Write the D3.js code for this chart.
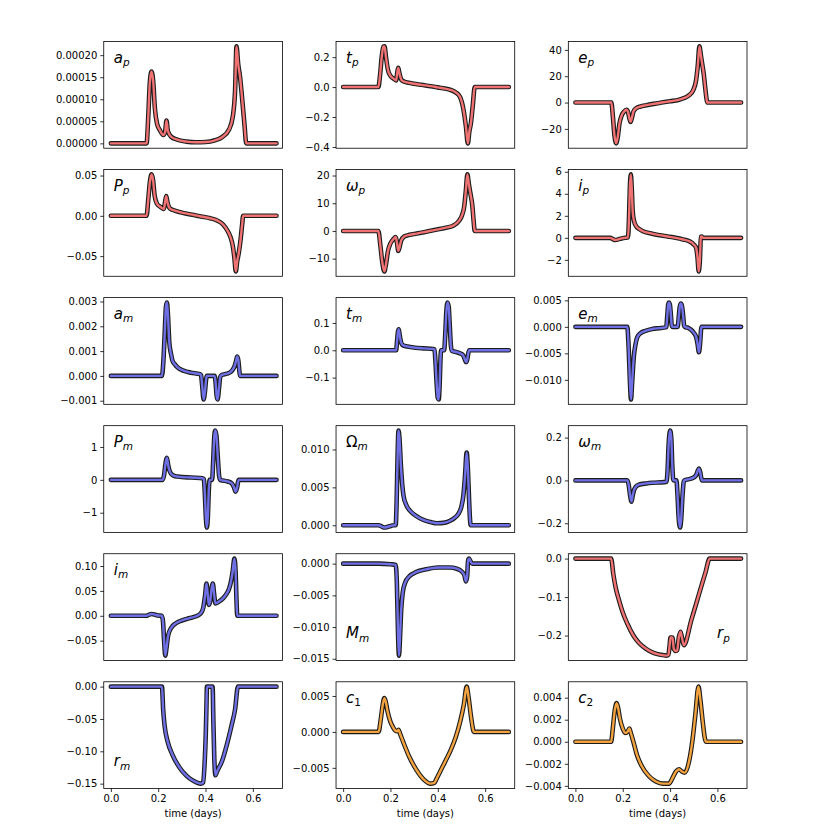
<!DOCTYPE html>
<html><head><meta charset="utf-8">
<script src="https://cdn.jsdelivr.net/npm/d3@7"></script>
<style>body{margin:0;background:#fff} svg{display:block}</style>
</head><body><svg id="c" width="830" height="830"></svg>
<script>
// ---- data: [time (days), value] ----
const ap = [[0,0],[0.151,0],[0.158,0.00006],[0.165,0.00014],[0.172,0.000163],[0.179,0.00014],[0.186,0.00008],[0.195,0.000045],[0.207,0.00003],[0.222,0.000019],[0.229,0.000025],[0.235,0.000052],[0.241,0.000028],[0.255,0.000015],[0.28,0.0000085],[0.32,0.000004],[0.36,0.0000025],[0.40,0.000003],[0.44,0.000007],[0.47,0.000014],[0.50,0.000032],[0.515,0.00006],[0.525,0.00012],[0.531,0.00022],[0.538,0.00018],[0.546,0.00015],[0.555,0.0001],[0.565,0.00004],[0.572,0],[0.7,0]];
const tp = [[0,0],[0.149,0],[0.156,0.08],[0.163,0.2],[0.17,0.27],[0.175,0.272],[0.181,0.2],[0.19,0.11],[0.2,0.075],[0.215,0.055],[0.224,0.045],[0.229,0.1],[0.233,0.128],[0.238,0.09],[0.248,0.045],[0.265,0.033],[0.283,0.027],[0.33,0.015],[0.37,0.006],[0.4,-0.002],[0.43,-0.01],[0.452,-0.018],[0.475,-0.035],[0.494,-0.066],[0.509,-0.155],[0.519,-0.265],[0.527,-0.376],[0.533,-0.3],[0.54,-0.24],[0.548,-0.12],[0.556,0],[0.7,0]];
const ep = [[0,0],[0.152,0],[0.158,-10],[0.165,-25],[0.172,-31],[0.179,-26],[0.186,-16],[0.195,-10],[0.205,-7],[0.216,-5.5],[0.222,-7],[0.228,-12],[0.233,-14.7],[0.238,-12],[0.245,-7],[0.255,-4.5],[0.275,-3],[0.3,-2],[0.33,-1],[0.364,0],[0.4,1],[0.435,2],[0.46,3.5],[0.48,5.5],[0.498,9.5],[0.51,17],[0.517,28],[0.524,42.7],[0.53,36],[0.536,29],[0.542,22],[0.548,12],[0.553,4],[0.557,0],[0.7,0]];
const Pp = [[0,0],[0.151,0],[0.158,0.02],[0.165,0.042],[0.172,0.0514],[0.178,0.045],[0.185,0.025],[0.195,0.015],[0.21,0.011],[0.224,0.0085],[0.229,0.017],[0.234,0.0245],[0.239,0.017],[0.25,0.009],[0.27,0.0065],[0.31,0.0033],[0.35,0.001],[0.381,-0.0008],[0.42,-0.003],[0.451,-0.006],[0.475,-0.011],[0.493,-0.0185],[0.505,-0.026],[0.515,-0.037],[0.522,-0.052],[0.528,-0.069],[0.534,-0.056],[0.54,-0.047],[0.548,-0.03],[0.555,-0.01],[0.559,0],[0.7,0]];
const wp = [[0,0],[0.149,0],[0.157,-5],[0.165,-11],[0.174,-14.6],[0.181,-12],[0.19,-7],[0.2,-4.5],[0.212,-3],[0.222,-2.2],[0.228,-4.5],[0.233,-7.2],[0.238,-6],[0.245,-3.5],[0.258,-2],[0.28,-1.4],[0.311,-0.95],[0.35,-0.3],[0.396,0.5],[0.43,1.1],[0.467,2],[0.49,3.7],[0.502,5.6],[0.512,9],[0.519,15],[0.525,20.4],[0.531,17],[0.537,13.9],[0.546,9.1],[0.552,3],[0.556,0],[0.7,0]];
const ip = [[0,0],[0.148,0],[0.158,-0.12],[0.168,-0.2],[0.18,-0.15],[0.195,-0.05],[0.21,0],[0.222,0.05],[0.226,1.5],[0.23,4.5],[0.234,5.76],[0.238,4.5],[0.242,2.4],[0.248,1.5],[0.257,1.05],[0.27,0.8],[0.285,0.6],[0.32,0.4],[0.355,0.24],[0.39,0.12],[0.423,0],[0.455,-0.15],[0.48,-0.3],[0.5,-0.6],[0.51,-0.9],[0.516,-1.8],[0.521,-3.05],[0.526,-2],[0.53,0.1],[0.533,0.12],[0.54,0],[0.7,0]];
const am = [[0,0],[0.216,0],[0.222,0.0006],[0.228,0.0018],[0.233,0.0028],[0.237,0.00296],[0.241,0.0025],[0.247,0.00135],[0.254,0.0009],[0.261,0.0006],[0.272,0.00045],[0.282,0.00034],[0.31,0.0002],[0.339,0.00013],[0.376,0.00007],[0.381,0.00003],[0.386,-0.0004],[0.392,-0.00095],[0.398,-0.0006],[0.403,-0.0001],[0.406,0],[0.438,0],[0.442,-0.0002],[0.447,-0.0008],[0.451,-0.00095],[0.457,-0.0005],[0.462,-0.00005],[0.467,0.00003],[0.49,0.00009],[0.502,0.00013],[0.515,0.00025],[0.523,0.0004],[0.529,0.0006],[0.534,0.00078],[0.539,0.0006],[0.543,0.0002],[0.546,0],[0.7,0]];
const tm = [[0,0],[0.224,0],[0.228,0.035],[0.232,0.07],[0.235,0.077],[0.239,0.055],[0.244,0.032],[0.25,0.02],[0.265,0.015],[0.283,0.012],[0.339,0.007],[0.38,0.005],[0.386,0.003],[0.39,-0.04],[0.395,-0.12],[0.4,-0.175],[0.404,-0.18],[0.408,-0.12],[0.412,-0.02],[0.414,0],[0.427,0],[0.431,0.05],[0.436,0.14],[0.441,0.175],[0.446,0.16],[0.45,0.1],[0.455,0.02],[0.459,-0.002],[0.48,-0.007],[0.494,-0.011],[0.506,-0.017],[0.513,-0.03],[0.519,-0.043],[0.524,-0.035],[0.529,-0.01],[0.533,0],[0.7,0]];
const em = [[0,0],[0.219,0],[0.225,-0.004],[0.23,-0.01],[0.235,-0.0137],[0.239,-0.011],[0.243,-0.008],[0.247,-0.0055],[0.254,-0.0033],[0.261,-0.002],[0.275,-0.0012],[0.296,-0.00076],[0.325,-0.0004],[0.353,-0.00025],[0.381,-0.0001],[0.384,0],[0.388,0.002],[0.392,0.0042],[0.395,0.0046],[0.399,0.0042],[0.403,0.0025],[0.407,0.0003],[0.41,0],[0.432,0],[0.436,0.0015],[0.441,0.0038],[0.446,0.0044],[0.45,0.004],[0.455,0.0022],[0.459,0.0003],[0.462,0],[0.479,-0.00025],[0.49,-0.0006],[0.5,-0.0011],[0.51,-0.0019],[0.516,-0.0032],[0.522,-0.0048],[0.527,-0.003],[0.531,-0.0005],[0.533,0],[0.7,0]];
const Pm = [[0,0],[0.219,0],[0.225,0.15],[0.231,0.5],[0.237,0.67],[0.242,0.45],[0.248,0.28],[0.254,0.19],[0.265,0.13],[0.282,0.1],[0.339,0.07],[0.388,0.05],[0.393,0.02],[0.397,-0.4],[0.402,-1.2],[0.406,-1.45],[0.41,-1.1],[0.414,-0.3],[0.417,0],[0.428,0],[0.432,0.5],[0.437,1.3],[0.441,1.5],[0.446,1.35],[0.451,0.8],[0.457,0.15],[0.462,0],[0.494,-0.05],[0.51,-0.1],[0.52,-0.22],[0.527,-0.36],[0.533,-0.25],[0.538,-0.05],[0.541,0],[0.7,0]];
const Om = [[0,0],[0.15,0],[0.165,-0.0002],[0.175,-0.0003],[0.19,-0.0002],[0.205,-0.00005],[0.215,0],[0.222,0],[0.226,0.003],[0.23,0.009],[0.234,0.0125],[0.238,0.0115],[0.244,0.0079],[0.255,0.0039],[0.268,0.0026],[0.283,0.0019],[0.31,0.0012],[0.339,0.0007],[0.37,0.00042],[0.396,0.00027],[0.43,0.00035],[0.452,0.0006],[0.472,0.001],[0.487,0.0015],[0.5,0.0025],[0.508,0.0039],[0.515,0.0065],[0.522,0.0096],[0.527,0.0075],[0.532,0.0035],[0.536,0.0008],[0.539,0],[0.7,0]];
const wm = [[0,0],[0.219,0],[0.225,-0.02],[0.231,-0.07],[0.237,-0.099],[0.242,-0.07],[0.247,-0.047],[0.255,-0.03],[0.268,-0.02],[0.3,-0.014],[0.325,-0.011],[0.374,-0.008],[0.385,-0.006],[0.389,0.04],[0.394,0.17],[0.4,0.233],[0.405,0.2],[0.409,0.08],[0.413,0.005],[0.415,0],[0.427,0],[0.431,-0.06],[0.436,-0.17],[0.442,-0.22],[0.447,-0.18],[0.452,-0.08],[0.457,-0.01],[0.46,0],[0.48,0.006],[0.494,0.011],[0.505,0.018],[0.511,0.027],[0.517,0.045],[0.522,0.055],[0.527,0.04],[0.532,0.01],[0.535,0],[0.7,0]];
const im = [[0,0],[0.15,0],[0.16,0.002],[0.172,0.0035],[0.185,0.0025],[0.2,0.0005],[0.215,0],[0.22,-0.01],[0.225,-0.05],[0.23,-0.08],[0.235,-0.065],[0.242,-0.04],[0.254,-0.025],[0.275,-0.015],[0.296,-0.01],[0.33,-0.005],[0.36,-0.001],[0.38,0.005],[0.39,0.015],[0.398,0.04],[0.404,0.065],[0.409,0.045],[0.414,0.022],[0.42,0.03],[0.426,0.055],[0.431,0.065],[0.436,0.045],[0.442,0.025],[0.455,0.028],[0.474,0.035],[0.49,0.045],[0.5,0.055],[0.508,0.07],[0.515,0.09],[0.522,0.115],[0.527,0.09],[0.531,0.03],[0.534,0],[0.7,0]];
const Mm = [[0,0],[0.15,0],[0.2,-0.0001],[0.222,-0.0002],[0.227,-0.003],[0.232,-0.011],[0.236,-0.0145],[0.24,-0.012],[0.245,-0.0075],[0.252,-0.0045],[0.262,-0.003],[0.28,-0.002],[0.31,-0.0013],[0.35,-0.0009],[0.4,-0.0006],[0.45,-0.0006],[0.48,-0.0008],[0.5,-0.0012],[0.512,-0.0018],[0.519,-0.0028],[0.524,-0.002],[0.528,0.0005],[0.532,0.0008],[0.538,0.0004],[0.545,0],[0.7,0]];
const rp = [[0,0],[0.151,0],[0.16,-0.04],[0.17,-0.075],[0.185,-0.11],[0.2,-0.14],[0.22,-0.17],[0.245,-0.2],[0.27,-0.22],[0.3,-0.235],[0.33,-0.245],[0.36,-0.25],[0.385,-0.252],[0.393,-0.25],[0.398,-0.225],[0.402,-0.205],[0.41,-0.205],[0.416,-0.235],[0.425,-0.24],[0.43,-0.238],[0.437,-0.205],[0.444,-0.19],[0.45,-0.205],[0.458,-0.225],[0.49,-0.159],[0.51,-0.118],[0.53,-0.076],[0.55,-0.035],[0.567,0],[0.7,0]];
const rm = [[0,0],[0.216,0],[0.221,-0.035],[0.227,-0.06],[0.24,-0.085],[0.26,-0.105],[0.29,-0.125],[0.32,-0.138],[0.35,-0.146],[0.38,-0.15],[0.39,-0.148],[0.396,-0.12],[0.401,-0.075],[0.404,-0.03],[0.406,0],[0.43,0],[0.433,-0.05],[0.437,-0.11],[0.442,-0.137],[0.45,-0.13],[0.47,-0.115],[0.49,-0.09],[0.51,-0.06],[0.525,-0.035],[0.537,0],[0.7,0]];
const c1 = [[0,0],[0.15,0],[0.158,0.0015],[0.166,0.0035],[0.174,0.0047],[0.18,0.0042],[0.188,0.0028],[0.2,0.0014],[0.21,0.0007],[0.22,0.0002],[0.228,0.0001],[0.234,0.0003],[0.24,-0.0002],[0.255,-0.0015],[0.28,-0.0035],[0.31,-0.0053],[0.34,-0.0066],[0.37,-0.0072],[0.385,-0.0071],[0.395,-0.0065],[0.41,-0.0055],[0.43,-0.0042],[0.455,-0.0025],[0.475,-0.0008],[0.495,0.0015],[0.51,0.0038],[0.522,0.0063],[0.53,0.0048],[0.54,0.0022],[0.548,0.0005],[0.552,0],[0.7,0]];
const c2 = [[0,0],[0.151,0],[0.158,0.0012],[0.166,0.0028],[0.174,0.0035],[0.18,0.0031],[0.188,0.0021],[0.2,0.0012],[0.212,0.0008],[0.22,0.0009],[0.228,0.0012],[0.234,0.0008],[0.245,0],[0.26,-0.0012],[0.28,-0.0022],[0.31,-0.0031],[0.34,-0.0036],[0.37,-0.0038],[0.395,-0.0038],[0.41,-0.0033],[0.425,-0.0027],[0.438,-0.0025],[0.45,-0.0027],[0.462,-0.0028],[0.48,-0.0018],[0.495,0.0002],[0.507,0.0025],[0.52,0.005],[0.528,0.0038],[0.538,0.0018],[0.547,0.0003],[0.552,0],[0.7,0]];

// ---- tick values ----
const xTicks = [0, 0.2, 0.4, 0.6];
const ticksAp = [0, 0.00005, 0.0001, 0.00015, 0.0002];
const ticksTp = [-0.4, -0.2, 0, 0.2];
const ticksEp = [-20, 0, 20, 40];
const ticksPp = [-0.05, 0, 0.05];
const ticksWp = [-10, 0, 10, 20];
const ticksIp = [-2, 0, 2, 4, 6];
const ticksAm = [-0.001, 0, 0.001, 0.002, 0.003];
const ticksTm = [-0.1, 0, 0.1];
const ticksEm = [-0.01, -0.005, 0, 0.005];
const ticksPm = [-1, 0, 1];
const ticksOm = [0, 0.005, 0.01];
const ticksWm = [-0.2, 0, 0.2];
const ticksIm = [-0.05, 0, 0.05, 0.1];
const ticksMm = [-0.015, -0.01, -0.005, 0];
const ticksRp = [-0.2, -0.1, 0];
const ticksRm = [-0.15, -0.1, -0.05, 0];
const ticksC1 = [-0.005, 0, 0.005];
const ticksC2 = [-0.004, -0.002, 0, 0.002, 0.004];

const RED = "#f07272", BLUE = "#6f70e6", ORANGE = "#f2a23e";

// label: [main, mainItalic, sub, subItalic]
const panels = [
  {d: ap, t: ticksAp, f: ".5f", c: RED,  lab: ["a", true, "p", true], pos: "tl"},
  {d: tp, t: ticksTp, f: ".1f", c: RED,  lab: ["t", true, "p", true], pos: "tl"},
  {d: ep, t: ticksEp, f: ".0f", c: RED,  lab: ["e", true, "p", true], pos: "tl"},
  {d: Pp, t: ticksPp, f: ".2f", c: RED,  lab: ["P", true, "p", true], pos: "tl"},
  {d: wp, t: ticksWp, f: ".0f", c: RED,  lab: ["ω", true, "p", true], pos: "tl"},
  {d: ip, t: ticksIp, f: ".0f", c: RED,  lab: ["i", true, "p", true], pos: "tl"},
  {d: am, t: ticksAm, f: ".3f", c: BLUE, lab: ["a", true, "m", true], pos: "tl"},
  {d: tm, t: ticksTm, f: ".1f", c: BLUE, lab: ["t", true, "m", true], pos: "tl"},
  {d: em, t: ticksEm, f: ".3f", c: BLUE, lab: ["e", true, "m", true], pos: "tl"},
  {d: Pm, t: ticksPm, f: ".0f", c: BLUE, lab: ["P", true, "m", true], pos: "tl"},
  {d: Om, t: ticksOm, f: ".3f", c: BLUE, lab: ["Ω", false, "m", true], pos: "tl"},
  {d: wm, t: ticksWm, f: ".1f", c: BLUE, lab: ["ω", true, "m", true], pos: "tl"},
  {d: im, t: ticksIm, f: ".2f", c: BLUE, lab: ["i", true, "m", true], pos: "tl"},
  {d: Mm, t: ticksMm, f: ".3f", c: BLUE, lab: ["M", true, "m", true], pos: "bl"},
  {d: rp, t: ticksRp, f: ".1f", c: RED,  lab: ["r", true, "p", true], pos: "br"},
  {d: rm, t: ticksRm, f: ".2f", c: BLUE, lab: ["r", true, "m", true], pos: "bl"},
  {d: c1, t: ticksC1, f: ".3f", c: ORANGE, lab: ["c", true, "1", false], pos: "tl"},
  {d: c2, t: ticksC2, f: ".3f", c: ORANGE, lab: ["c", true, "2", false], pos: "tl"}
];

(function draw() {
  const W = 830, H = 830;
  const gL = 0.125 * W, gR = 0.9 * W, gT = 0.05 * H, gB = 0.95 * H;
  const nR = 6, nC = 3, wsp = 0.3, hsp = 0.2;
  const pw = (gR - gL) / (nC + (nC - 1) * wsp);
  const ph = (gB - gT) / (nR + (nR - 1) * hsp);
  const FONT = "'DejaVu Sans', sans-serif";

  const svg = d3.select("#c");
  const x = d3.scaleLinear().domain([-0.03, 0.725]).range([0, pw]);
  const mkLine = (xs, ys) => d3.line().x(d => xs(d[0])).y(d => ys(d[1])).curve(d3.curveMonotoneX);

  panels.forEach((p, i) => {
    const r = Math.floor(i / nC), c = i % nC;
    const ox = gL + c * pw * (1 + wsp), oy = gT + r * ph * (1 + hsp);
    const g = svg.append("g").attr("transform", `translate(${ox},${oy})`);
    const ext = d3.extent(p.d, d => d[1]);
    const pad = (ext[1] - ext[0]) * 0.05;
    const y = d3.scaleLinear().domain([ext[0] - pad, ext[1] + pad]).range([ph, 0]);

    const clip = "clip" + i;
    g.append("clipPath").attr("id", clip).append("rect").attr("width", pw).attr("height", ph);
    const pg = g.append("g").attr("clip-path", `url(#${clip})`);
    pg.append("path").datum(p.d).attr("d", mkLine(x, y)).attr("fill", "none")
      .attr("stroke", "#1c1c1c").attr("stroke-width", 4.6).attr("stroke-linejoin", "round").attr("stroke-linecap", "round");
    pg.append("path").datum(p.d).attr("d", mkLine(x, y)).attr("fill", "none")
      .attr("stroke", p.c).attr("stroke-width", 2.4).attr("stroke-linejoin", "round").attr("stroke-linecap", "round");

    const ya = d3.axisLeft(y).tickValues(p.t.filter(v => v >= y.domain()[0] && v <= y.domain()[1]))
      .tickFormat(d3.format(p.f)).tickSize(3.5).tickPadding(3);
    const yg = g.append("g").call(ya);
    yg.select(".domain").remove();
    yg.selectAll("line").attr("stroke", "#000").attr("stroke-width", 0.8);
    yg.selectAll("text").attr("font-family", FONT).attr("font-size", 10).attr("fill", "#000");

    if (r === nR - 1) {
      const xa = d3.axisBottom(x).tickValues(xTicks).tickFormat(d3.format(".1f")).tickSize(3.5).tickPadding(3);
      const xg = g.append("g").attr("transform", `translate(0,${ph})`).call(xa);
      xg.select(".domain").remove();
      xg.selectAll("line").attr("stroke", "#000").attr("stroke-width", 0.8);
      xg.selectAll("text").attr("font-family", FONT).attr("font-size", 10).attr("fill", "#000");
      g.append("text").attr("x", pw / 2).attr("y", ph + 29).attr("text-anchor", "middle")
        .attr("font-family", FONT).attr("font-size", 10).attr("fill", "#000").text("time (days)");
    }

    g.append("rect").attr("width", pw).attr("height", ph).attr("fill", "none")
      .attr("stroke", "#000").attr("stroke-width", 0.8);

    let lx = 10, ly = 21;
    if (p.pos === "bl") { lx = 10; ly = ph - 22; }
    if (p.pos === "br") { lx = pw - 30; ly = ph - 22; }
    const t = g.append("text").attr("x", lx).attr("y", ly).attr("font-family", FONT).attr("fill", "#000");
    t.append("tspan").attr("font-size", 15).attr("font-style", p.lab[1] ? "italic" : "normal").text(p.lab[0]);
    t.append("tspan").attr("font-size", 10.5).attr("dy", 3.5).attr("font-style", p.lab[3] ? "italic" : "normal").text(p.lab[2]);
  });
})();
</script>
</body></html>
